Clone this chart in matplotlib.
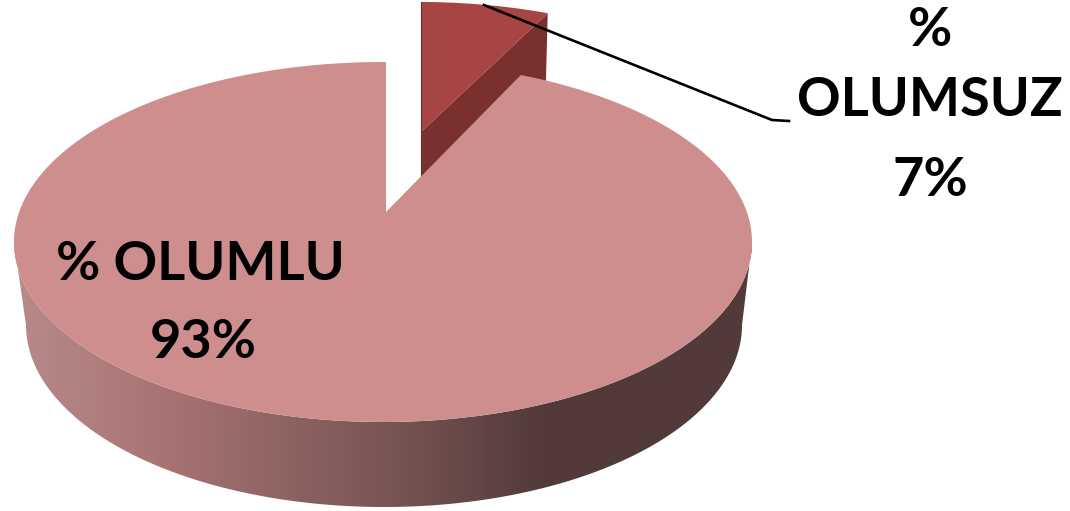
import numpy as np
import matplotlib
matplotlib.use("Agg")
import matplotlib.pyplot as plt
from matplotlib.colors import LinearSegmentedColormap
from matplotlib.patches import Polygon

names = ["% OLUMLU", "% OLUMSUZ"]
values = [93, 7]

W, H = 1070, 511
fig = plt.figure(figsize=(W / 100, H / 100), dpi=100)
ax = fig.add_axes([0, 0, 1, 1])
ax.axis("off")

# Perspective disc geometry, in pixels
apex = np.array([386.0, 212.0])
dir_x, dir_y = 366.0, 175.0
top_c, top_r = np.array([383.0, 242.0]), np.array([369.0, 180.0])
low_c, low_r = np.array([384.0, 325.0]), np.array([358.0, 182.0])


def rim(theta):
    """Where the ray from the apex at disc angle theta meets the top ellipse."""
    d = np.stack([dir_x * np.sin(theta), -dir_y * np.cos(theta)], axis=1)
    o = (apex - top_c) / top_r
    d2 = d / top_r
    a = (d2 ** 2).sum(1)
    b = 2 * (d2 * o).sum(1)
    c = (o ** 2).sum() - 1
    s = (-b + np.sqrt(b * b - 4 * a * c)) / (2 * a)
    return apex + d * s[:, None]


small_end = 2 * np.pi * values[1] / sum(values)

# Side wall of the large slice, with its horizontal gradient
t = np.linspace(np.pi, 0, 300)
up = np.column_stack([top_c[0] + top_r[0] * np.cos(t), top_c[1] + top_r[1] * np.sin(t)])
lo = np.column_stack([low_c[0] + low_r[0] * np.cos(t), low_c[1] + low_r[1] * np.sin(t)])
wall_poly = np.vstack([up, lo[::-1]])
wall_cmap = LinearSegmentedColormap.from_list(
    "wall",
    [(0.0, "#b88a8a"), (0.2, "#a87473"), (0.5, "#7a5655"), (0.72, "#523a3a"), (1.0, "#523a3a")],
)
img = ax.imshow(
    np.linspace(0, 1, 512)[None, :], cmap=wall_cmap, aspect="auto",
    extent=(14, 752, 520, 240), zorder=1, interpolation="bilinear",
)
wall_patch = Polygon(wall_poly, closed=True, transform=ax.transData, fc="none", ec="none")
ax.add_patch(wall_patch)
img.set_clip_path(wall_patch)

# Small exploded slice: top face and cut face
th_small = np.linspace(0, small_end, 60)
arc = rim(th_small)
s_apex = np.array([421.0, 132.0])
s_arc = s_apex + (arc - apex) * np.array([0.94, 0.867])
ax.add_patch(Polygon(
    [s_apex, s_arc[-1], s_arc[-1] + [-2, 76], s_apex + [0, 68]],
    closed=True, fc="#7a302f", ec="none", zorder=2,
))
ax.add_patch(Polygon(np.vstack([s_apex, s_arc]), closed=True, fc="#a64543", ec="none", zorder=3))
ax.plot([s_apex[0], s_apex[0]], [s_arc[0][1], s_apex[1] + 44], color="#6e2c2b", lw=0.8, zorder=3)

# Large slice top face
th_big = np.linspace(small_end, 2 * np.pi, 600)
ax.add_patch(Polygon(np.vstack([apex, rim(th_big)]), closed=True, fc="#ce8e8e", ec="none", zorder=4))

# Leader line
ax.plot([484, 772, 789], [5, 120, 121], color="black", lw=1.9, zorder=5,
        solid_joinstyle="round")

# Labels
font = dict(family="Lato", weight="bold", size=39, ha="center", va="center",
            color="black", zorder=6)
big_name, small_name = names
small_pct, small_word = small_name.split(" ")
ax.text(930, 30, small_pct, **font)
ax.text(930, 101, small_word, **font)
ax.text(930, 180, f"{values[1]}%", **font)
ax.text(200, 264, big_name, **font)
ax.text(203, 342, f"{values[0]}%", **font)

ax.set_xlim(0, W)
ax.set_ylim(H, 0)
fig.savefig("out.png", dpi=100, facecolor="white")
